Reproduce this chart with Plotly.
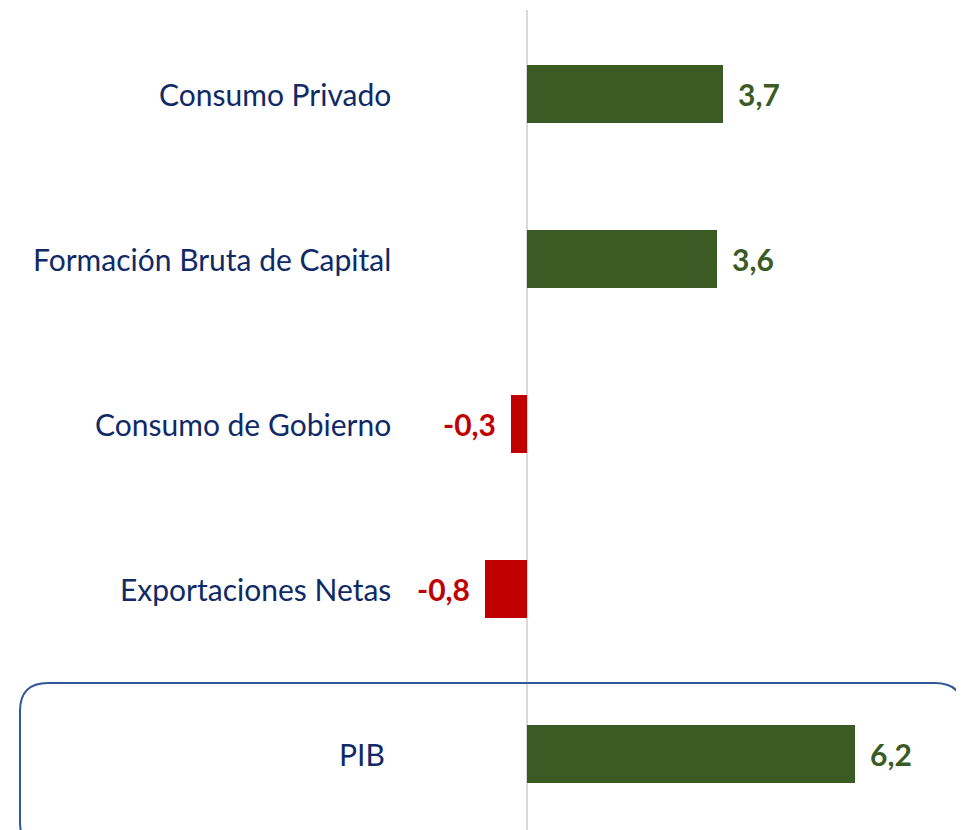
import re
import plotly.graph_objects as go

categories = ["Consumo Privado", "Formación Bruta de Capital", "Consumo de Gobierno",
              "Exportaciones Netas", "PIB"]
values = [3.7, 3.6, -0.3, -0.8, 6.2]
value_labels = ["3,7", "3,6", "-0,3", "-0,8", "6,2"]

GREEN = "#3b5a24"
RED = "#c00000"
NAVY = "#0f2a66"
FONT = "Lato"

OFF = 8  # default page body margin
W, H = 964 - OFF, 830 - OFF
x0_px, px_per_unit = 527 - OFF, 52.9
y0_px, row_px = 94 - OFF, 165

xr = [-x0_px / px_per_unit, (W - x0_px) / px_per_unit]
yr = [(H - y0_px) / row_px, -y0_px / row_px]

ypos = list(range(len(categories)))
colors = [GREEN if v >= 0 else RED for v in values]

fig = go.Figure()
fig.add_trace(go.Bar(
    x=values, y=ypos, orientation="h", marker=dict(color=colors, line=dict(width=0)),
    width=0.355, hoverinfo="skip", showlegend=False,
))

# zero line
fig.add_shape(type="line", x0=0, x1=0, y0=(10 - OFF - y0_px) / row_px, y1=yr[0],
              xref="x", yref="y", line=dict(color="#d9d9d9", width=2), layer="below")

def px_to_paper_x(p):
    return p / W

def px_to_paper_y(p):
    return 1 - p / H

bx0, bx1, by0, by1, r = 20 - OFF, 963 - OFF, 683 - OFF, 850 - OFF, 28
path = (f"M {bx0 + r},{by0} L {bx1 - r},{by0} Q {bx1},{by0} {bx1},{by0 + r} "
        f"L {bx1},{by1 - r} Q {bx1},{by1} {bx1 - r},{by1} "
        f"L {bx0 + r},{by1} Q {bx0},{by1} {bx0},{by1 - r} "
        f"L {bx0},{by0 + r} Q {bx0},{by0} {bx0 + r},{by0} Z")

def conv(m):
    x, y = float(m.group(1)), float(m.group(2))
    return f"{px_to_paper_x(x):.5f},{px_to_paper_y(y):.5f}"
path_paper = re.sub(r"(-?\d+\.?\d*),(-?\d+\.?\d*)", conv, path)
fig.add_shape(type="path", path=path_paper, xref="paper", yref="paper",
              line=dict(color="#34569a", width=2), fillcolor="rgba(0,0,0,0)")

# category labels
for i, cat in enumerate(categories):
    if cat == "PIB":
        fig.add_annotation(x=0, y=i, xref="x", yref="y", text=cat, showarrow=False,
                           xanchor="center", xshift=-(527 - 361.5),
                           font=dict(family=FONT, size=30, color=NAVY))
    else:
        fig.add_annotation(x=0, y=i, xref="x", yref="y", text=cat, showarrow=False,
                           xanchor="right", xshift=-(527 - 393),
                           font=dict(family=FONT, size=30, color=NAVY))

# value labels
for i, (v, lab, c) in enumerate(zip(values, value_labels, colors)):
    fig.add_annotation(x=v, y=i, xref="x", yref="y", text=f"<b>{lab}</b>", showarrow=False,
                       xanchor="left" if v >= 0 else "right",
                       xshift=13 if v >= 0 else -13,
                       font=dict(family=FONT, size=30, color=c))

fig.update_layout(
    width=W, height=H, margin=dict(l=0, r=0, t=0, b=0),
    paper_bgcolor="white", plot_bgcolor="white",
    xaxis=dict(range=xr, visible=False, fixedrange=True),
    yaxis=dict(range=yr, visible=False, fixedrange=True),
    bargap=0,
)

fig.write_html("out.html")
